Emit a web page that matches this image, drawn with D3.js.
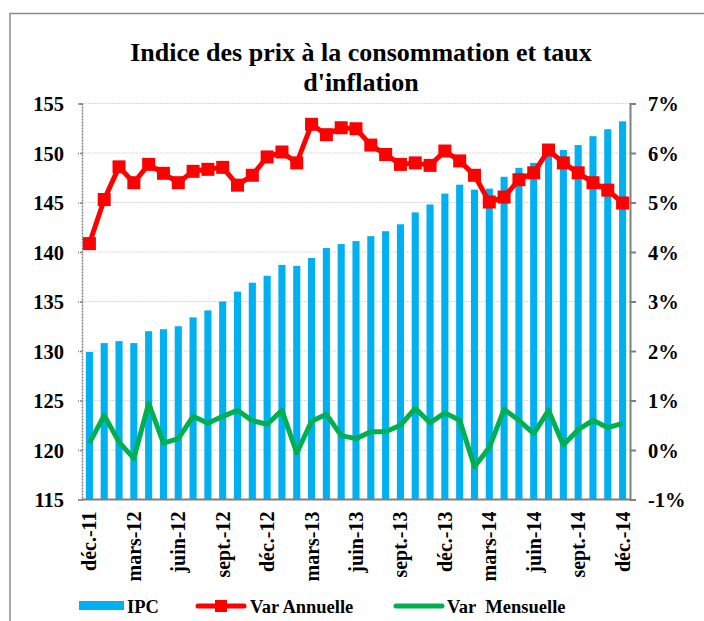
<!DOCTYPE html>
<html>
<head>
<meta charset="utf-8">
<title>Indice des prix à la consommation</title>
<script src="https://d3js.org/d3.v7.min.js"></script>
<style>
  * { margin:0; padding:0; box-sizing:border-box; }
  body { background:#fff; width:704px; height:621px; overflow:hidden; }
</style>
</head>
<body>
<svg id="chart" width="704" height="621"></svg>
<script>
const months = [
  'déc.-11','janv.-12','févr.-12','mars-12','avr.-12','mai-12','juin-12','juil.-12','août-12','sept.-12','oct.-12','nov.-12',
  'déc.-12','janv.-13','févr.-13','mars-13','avr.-13','mai-13','juin-13','juil.-13','août-13','sept.-13','oct.-13','nov.-13',
  'déc.-13','janv.-14','févr.-14','mars-14','avr.-14','mai-14','juin-14','juil.-14','août-14','sept.-14','oct.-14','nov.-14',
  'déc.-14'
];
const ipc = [
  129.9, 130.8, 131.0, 130.8, 132.0, 132.2, 132.5, 133.4, 134.1, 135.0, 136.0, 136.9,
  137.6, 138.7, 138.6, 139.4, 140.4, 140.8, 141.1, 141.6, 142.1, 142.8, 144.0, 144.8,
  145.9, 146.8, 146.3, 146.4, 147.6, 148.5, 149.0, 149.9, 150.3, 150.8, 151.7, 152.4,
  153.2
];
const varAnnuelle = [
  4.17, 5.06, 5.72, 5.40, 5.77, 5.59, 5.40, 5.63, 5.67, 5.71, 5.35, 5.55,
  5.92, 6.02, 5.80, 6.58, 6.37, 6.51, 6.49, 6.16, 5.97, 5.77, 5.80, 5.75,
  6.04, 5.84, 5.55, 5.01, 5.11, 5.46, 5.60, 6.06, 5.80, 5.60, 5.40, 5.25,
  4.99
];
const varMensuelle = [
  0.14, 0.70, 0.16, -0.17, 0.94, 0.14, 0.23, 0.68, 0.54, 0.68, 0.80, 0.59,
  0.52, 0.80, -0.06, 0.58, 0.72, 0.29, 0.23, 0.37, 0.37, 0.50, 0.84, 0.55,
  0.75, 0.60, -0.34, 0.05, 0.82, 0.60, 0.33, 0.80, 0.10, 0.41, 0.60, 0.45,
  0.54
];
const leftTicks = [115, 120, 125, 130, 135, 140, 145, 150, 155];
const rightTicks = [-1, 0, 1, 2, 3, 4, 5, 6, 7];

const BLUE = '#00B0F0', RED = '#FF0000', GREEN = '#00B050';
const svg = d3.select('#chart');
const plot = { left: 82, right: 630, top: 103.5, bottom: 499.5 };

function serif(sel, size) {
  return sel.attr('font-size', size).attr('font-weight', 'bold').attr('fill', '#000')
    .style('font-family', '"Liberation Serif"');
}

// outer frame
svg.append('rect').attr('x', 10).attr('y', 13.5).attr('width', 720).attr('height', 640)
  .attr('fill', 'none').attr('stroke', '#8c8c8c').attr('stroke-width', 1.5);

// title (two lines)
serif(svg.append('text').attr('text-anchor', 'middle'), 26)
  .attr('x', 361).attr('y', 61).text('Indice des prix à la consommation et taux');
serif(svg.append('text').attr('text-anchor', 'middle'), 26)
  .attr('x', 361).attr('y', 91).text("d'inflation");

const x = d3.scaleBand().domain(d3.range(months.length)).range([plot.left, plot.right]).paddingInner(0.52).paddingOuter(0.26);
const xc = i => x(i) + x.bandwidth() / 2;
const yL = d3.scaleLinear().domain([115, 155]).range([plot.bottom, plot.top]);
const yR = d3.scaleLinear().domain([-1, 7]).range([plot.bottom, plot.top]);

// gridlines
svg.append('g').selectAll('line').data(leftTicks.slice(1)).join('line')
  .attr('x1', plot.left).attr('x2', plot.right)
  .attr('y1', d => yL(d)).attr('y2', d => yL(d))
  .attr('stroke', '#d9d9d9').attr('stroke-width', 1).attr('stroke-dasharray', '2,1');

// bars
svg.append('g').selectAll('rect').data(ipc).join('rect')
  .attr('x', (d, i) => x(i)).attr('width', x.bandwidth())
  .attr('y', d => yL(d)).attr('height', d => plot.bottom - yL(d))
  .attr('fill', BLUE);

// left axis (dotted)
const gL = svg.append('g').attr('transform', `translate(${plot.left},0)`)
  .call(d3.axisLeft(yL).tickValues(leftTicks).tickSize(4).tickPadding(14));
gL.attr('font-family', null);
gL.select('.domain').attr('stroke', '#7f7f7f').attr('stroke-dasharray', '2,1').attr('stroke-width', 1.5);
gL.selectAll('.tick line').attr('stroke', '#7f7f7f').attr('stroke-dasharray', '2,1').attr('stroke-width', 1.5);
serif(gL.selectAll('.tick text'), 20.5).attr('dy', '0.35em');

// right axis
const gR = svg.append('g').attr('transform', `translate(${plot.right},0)`)
  .call(d3.axisRight(yR).tickValues(rightTicks).tickSize(6).tickPadding(12).tickFormat(d => d + '%'));
gR.attr('font-family', null);
gR.select('.domain').attr('stroke', '#7f7f7f').attr('stroke-width', 2);
gR.selectAll('.tick line').attr('stroke', '#7f7f7f').attr('stroke-width', 2);
serif(gR.selectAll('.tick text'), 20.5).attr('dy', '0.35em');

// bottom axis
svg.append('line').attr('x1', plot.left).attr('x2', plot.right + 1)
  .attr('y1', plot.bottom).attr('y2', plot.bottom)
  .attr('stroke', '#7f7f7f').attr('stroke-width', 2);

// x labels every 3 months
serif(svg.append('g').selectAll('text').data(d3.range(0, months.length, 3)).join('text'), 20)
  .attr('transform', i => `translate(${xc(i) + 7},${plot.bottom + 12}) rotate(-90)`)
  .attr('text-anchor', 'end')
  .text(i => months[i]);

// green line
svg.append('path').datum(varMensuelle)
  .attr('d', d3.line().x((d, i) => xc(i)).y(d => yR(d)))
  .attr('fill', 'none').attr('stroke', GREEN).attr('stroke-width', 5).attr('stroke-linejoin', 'round');

// red line + markers
svg.append('path').datum(varAnnuelle)
  .attr('d', d3.line().x((d, i) => xc(i)).y(d => yR(d)))
  .attr('fill', 'none').attr('stroke', RED).attr('stroke-width', 5).attr('stroke-linejoin', 'round');
svg.append('g').selectAll('rect').data(varAnnuelle).join('rect')
  .attr('x', (d, i) => xc(i) - 6.5).attr('y', d => yR(d) - 6.5)
  .attr('width', 13).attr('height', 13).attr('fill', RED);

// legend
const lg = svg.append('g');
lg.append('rect').attr('x', 79).attr('y', 601).attr('width', 45).attr('height', 9).attr('fill', BLUE);
serif(lg.append('text'), 18.5).attr('x', 127).attr('y', 613).text('IPC');
lg.append('line').attr('x1', 198).attr('x2', 244).attr('y1', 606).attr('y2', 606)
  .attr('stroke', RED).attr('stroke-width', 5).attr('stroke-linecap', 'round');
lg.append('rect').attr('x', 215).attr('y', 600).attr('width', 12).attr('height', 12).attr('fill', RED);
serif(lg.append('text'), 18.5).attr('x', 250).attr('y', 613).text('Var Annuelle');
lg.append('line').attr('x1', 396).attr('x2', 442).attr('y1', 606).attr('y2', 606)
  .attr('stroke', GREEN).attr('stroke-width', 5).attr('stroke-linecap', 'round');
serif(lg.append('text'), 18.5).attr('x', 447).attr('y', 613).text('Var\u00a0 Mensuelle');
</script>
</body>
</html>
